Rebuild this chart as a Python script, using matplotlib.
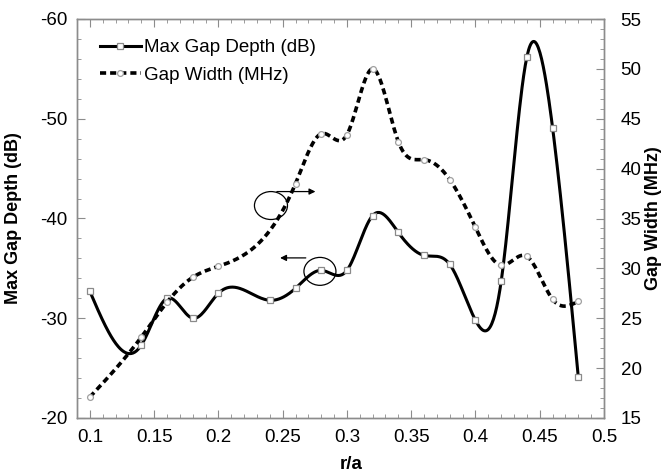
import numpy as np
import matplotlib
matplotlib.use("Agg")
import matplotlib.pyplot as plt
from matplotlib.lines import Line2D
from matplotlib.patches import Ellipse
from matplotlib.ticker import MultipleLocator

plt.rcParams['font.family'] = ['Liberation Sans', 'DejaVu Sans']
plt.rcParams['axes.unicode_minus'] = False

# data
r_depth = [0.10, 0.14, 0.16, 0.18, 0.20, 0.24, 0.26, 0.28, 0.30, 0.32,
           0.34, 0.36, 0.38, 0.40, 0.42, 0.44, 0.46, 0.48]
depth_db = [-32.7, -27.3, -32.0, -30.0, -32.5, -31.8, -33.0, -34.8, -34.8, -40.3,
            -38.6, -36.3, -35.4, -29.8, -33.7, -56.2, -49.1, -24.1]

r_width = [0.10, 0.14, 0.16, 0.18, 0.20, 0.26, 0.28, 0.30, 0.32, 0.34,
           0.36, 0.38, 0.40, 0.42, 0.44, 0.46, 0.48]
width_mhz = [17.1, 23.1, 26.6, 29.1, 30.2, 38.5, 43.5, 43.4, 50.0, 42.7,
             40.9, 38.9, 34.1, 30.3, 31.2, 26.9, 26.7]


def natural_spline(x, y, n=600):
    # plain natural cubic spline, no scipy here
    x = np.asarray(x, float)
    y = np.asarray(y, float)
    k = len(x)
    h = np.diff(x)
    A = np.zeros((k, k))
    b = np.zeros(k)
    A[0, 0] = 1
    A[-1, -1] = 1
    for i in range(1, k - 1):
        A[i, i - 1] = h[i - 1]
        A[i, i] = 2 * (h[i - 1] + h[i])
        A[i, i + 1] = h[i]
        b[i] = 6 * ((y[i + 1] - y[i]) / h[i] - (y[i] - y[i - 1]) / h[i - 1])
    m = np.linalg.solve(A, b)
    xs = np.linspace(x[0], x[-1], n)
    idx = np.clip(np.searchsorted(x, xs) - 1, 0, k - 2)
    x0, x1 = x[idx], x[idx + 1]
    hh = x1 - x0
    t0, t1 = x1 - xs, xs - x0
    ys = (m[idx] * t0**3 + m[idx + 1] * t1**3) / (6 * hh) \
        + (y[idx] / hh - m[idx] * hh / 6) * t0 \
        + (y[idx + 1] / hh - m[idx + 1] * hh / 6) * t1
    return xs, ys


fig = plt.figure(figsize=(6.68, 4.74), dpi=100)
ax = fig.add_axes([77/668, 1-418/474, 527/668, 399/474])
ax2 = ax.twinx()

dash = (0, (1.7, 1.1))
xs, ys = natural_spline(r_depth, depth_db)
ax.plot(xs, ys, color='black', lw=2.2, zorder=2)
ax.plot(r_depth, depth_db, ls='none', marker='s', ms=5, mfc='white',
        mec='#8a8a8a', mew=0.9, zorder=3)

xs, ys = natural_spline(r_width, width_mhz)
ax2.plot(xs, ys, color='black', lw=2.6, ls=dash, zorder=2)
ax2.plot(r_width, width_mhz, ls='none', marker='o', ms=4.2, mfc='white',
         mec='#a0a0a0', mew=0.9, zorder=3)

ax.set_xlim(0.09, 0.5)
ax.set_ylim(-20, -60)
ax2.set_ylim(15, 55)

ax.xaxis.set_major_locator(MultipleLocator(0.05))
ax.xaxis.set_minor_locator(MultipleLocator(0.01))
ax.yaxis.set_major_locator(MultipleLocator(10))
ax.yaxis.set_minor_locator(MultipleLocator(2))
ax2.yaxis.set_major_locator(MultipleLocator(5))
ax2.yaxis.set_minor_locator(MultipleLocator(1))
ax.set_xticks([0.1, 0.15, 0.2, 0.25, 0.3, 0.35, 0.4, 0.45, 0.5])
ax.set_xticklabels(['0.1', '0.15', '0.2', '0.25', '0.3', '0.35', '0.4', '0.45', '0.5'])

grey = '#8c8c8c'
for a in (ax, ax2):
    for s in a.spines.values():
        s.set_color(grey)
        s.set_linewidth(1.0)
ax.tick_params(which='both', direction='in', top=True, color=grey,
               labelsize=13.5)
ax.tick_params(which='major', length=6)
ax.tick_params(which='minor', length=3)
ax.tick_params(axis='x', pad=8)
ax.tick_params(axis='y', pad=7)
ax2.tick_params(which='both', direction='in', color=grey, labelsize=13.5, pad=12)
ax2.tick_params(which='major', length=6)
ax2.tick_params(which='minor', length=3)

ax.set_xlabel('r/a', fontsize=13.5, fontweight='bold')
ax.xaxis.set_label_coords(0.52, -0.095)
ax.set_ylabel('Max Gap Depth (dB)', fontsize=13, fontweight='bold')
ax.yaxis.set_label_coords(-0.105, 0.5)
ax2.set_ylabel('Gap Width (MHz)', fontsize=13, fontweight='bold')
ax2.yaxis.set_label_coords(1.078, 0.5)

# circled markers with arrows pointing to each curve's axis
ax.add_patch(Ellipse((0.2409, -41.3), 0.0257, 2.8, fill=False, lw=0.9,
                     ec='black', zorder=4))
ax.annotate('', xy=(0.2755, -42.7), xytext=(0.2455, -42.7),
            arrowprops=dict(arrowstyle='-|>', lw=0.9, color='black',
                            mutation_scale=9, shrinkA=0, shrinkB=0))
ax.add_patch(Ellipse((0.279, -34.7), 0.0249, 2.8, fill=False, lw=0.9,
                     ec='black', zorder=4))
ax.annotate('', xy=(0.2480, -36.05), xytext=(0.2680, -36.05),
            arrowprops=dict(arrowstyle='-|>', lw=0.9, color='black',
                            mutation_scale=9, shrinkA=0, shrinkB=0))

handles = [
    Line2D([], [], color='black', lw=2.2, marker='s', ms=5, mfc='white',
           mec='#8a8a8a', mew=0.9),
    Line2D([], [], color='black', lw=2.6, ls=dash, marker='o', ms=4.2,
           mfc='white', mec='#a0a0a0', mew=0.9),
]
ax2.legend(handles, ['Max Gap Depth (dB)', 'Gap Width (MHz)'], loc='upper left',
           bbox_to_anchor=(0.043, 0.95), frameon=False, fontsize=13.5,
           handlelength=2.2, handletextpad=0.15, borderpad=0, borderaxespad=0,
           labelspacing=0.55)

fig.savefig('out.png', dpi=100)
